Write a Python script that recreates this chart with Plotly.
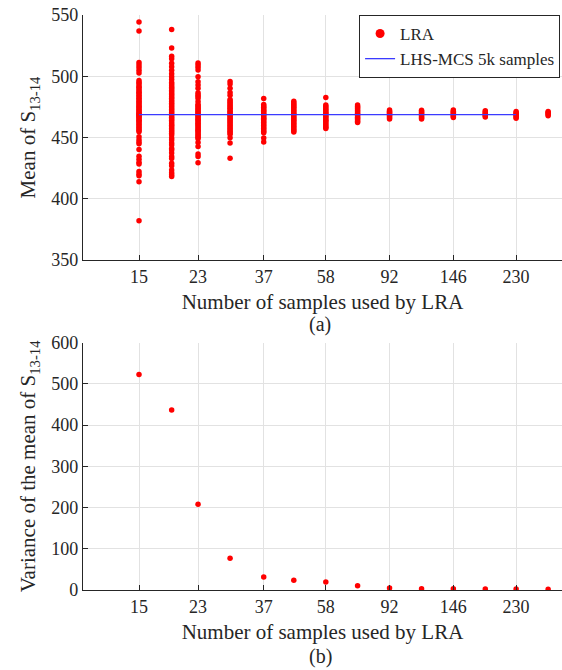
import plotly.graph_objects as go
from plotly.subplots import make_subplots

# Number of samples used by LRA (log-spaced design sizes)
sample_counts = [15, 19, 23, 29, 37, 46, 58, 73, 92, 116, 146, 184, 230, 290]
tick_counts = [15, 23, 37, 58, 92, 146, 230]

# Mean of S13-14 estimated by LRA in each repetition, per design size
mean_15 = [544.3, 537.0, 511.2, 509.2, 507.2, 504.8, 502.6,
           496.5, 495.0, 493.8, 492.1, 491.0, 489.6, 488.2, 487.0, 485.9, 484.5,
           483.3, 482.0, 480.8, 479.6, 478.4, 477.3, 476.0, 475.1, 474.0, 472.9,
           471.8, 470.9, 469.9, 469.0, 468.1, 467.2, 466.3, 465.2, 464.1, 463.0,
           461.9, 460.6, 459.4, 458.2, 457.0, 455.8, 454.6,
           450.7, 448.2, 446.4, 444.9, 440.2, 434.6, 432.3, 429.8, 428.4,
           422.2, 420.3, 418.8, 413.9, 382.1]
mean_19 = [538.2, 523.0, 516.3, 514.2, 510.6, 507.8, 505.0, 502.0, 499.6, 497.3,
           495.0, 493.6, 492.3, 490.9, 489.8, 488.4, 487.1, 485.8, 484.6, 483.2,
           482.0, 480.6, 479.3, 478.0, 476.8, 475.4, 474.1, 472.9, 471.6, 470.4,
           469.1, 467.9, 466.6, 465.3, 464.0, 462.7, 461.3, 460.1, 458.8, 457.4,
           456.1, 454.8, 453.4, 452.0,
           449.6, 447.9, 445.6, 443.8, 441.0, 439.7, 437.4, 434.4, 432.8,
           428.9, 427.0, 423.5, 421.2, 419.6, 418.2]
mean_23 = [510.9, 509.2, 507.3, 505.2, 499.6, 495.6, 492.9, 490.2, 486.6, 485.0,
           483.6, 482.0, 479.3,
           477.2, 476.0, 474.8, 473.7, 472.6, 471.5, 470.4, 469.3, 468.2, 467.1,
           466.0, 464.9, 463.8, 462.7, 461.6, 460.4, 459.3, 458.2, 457.0, 455.9,
           454.8, 453.6, 452.5, 451.3, 450.2, 449.0,
           446.0, 442.6, 436.6, 434.4, 429.4]
mean_29 = [495.8, 493.6, 490.2, 486.8, 484.5,
           481.0, 479.8, 478.6, 477.4, 476.2, 475.0, 473.9, 472.7, 471.5, 470.4,
           469.2, 468.0, 466.9, 465.7, 464.5, 463.4, 462.2, 461.0, 459.8, 458.6,
           457.4, 456.2, 455.0, 453.8, 452.6,
           449.8, 445.6, 433.0]
mean_37 = [481.8,
           477.0, 475.8, 474.6, 473.4, 472.3, 471.2, 470.1, 469.0, 467.9, 466.8,
           465.7, 464.6, 463.4, 462.2, 461.0, 459.8, 458.6, 457.4, 456.2, 455.0,
           453.8, 449.5, 446.4]
mean_46 = [479.5, 478.2, 477.0, 475.8, 474.6, 473.4, 472.2, 471.0, 469.8, 468.7,
           467.6, 466.4, 465.2, 464.0, 462.8, 461.6, 460.4, 459.2, 458.0, 456.8,
           455.6, 454.5]
mean_58 = [482.6,
           476.5, 475.3, 474.1, 472.9, 471.8, 470.7, 469.6, 468.5, 467.4, 466.3,
           465.2, 464.1, 463.0, 461.8, 460.6, 459.4, 458.3, 457.4]
mean_73 = [476.5, 475.4, 474.3, 473.2, 472.1, 471.0, 469.9, 468.8, 467.7, 466.6,
           465.5, 464.4, 463.3, 462.2]
mean_92 = [472.5, 471.5, 470.6, 469.7, 468.8, 467.9, 467.0, 466.0, 465.1]
mean_116 = [472.3, 471.3, 470.4, 469.5, 468.6, 467.7, 466.8, 465.9, 465.2]
mean_146 = [472.5, 471.5, 470.6, 469.7, 468.8, 467.9, 467.1, 466.3]
mean_184 = [471.8, 470.9, 470.0, 469.2, 468.4, 467.6, 466.8]
mean_230 = [471.2, 470.3, 469.4, 468.5, 467.6, 466.7, 465.8]
mean_290 = [471.3, 470.4, 469.5, 468.6, 467.7]

lra_means = [mean_15, mean_19, mean_23, mean_29, mean_37, mean_46, mean_58,
             mean_73, mean_92, mean_116, mean_146, mean_184, mean_230, mean_290]

# Reference mean from LHS-MCS with 5000 samples
mcs_mean = 468.6
mcs_range = [15, 230]

# Variance of the LRA mean estimates per design size
lra_variance = [523, 437, 208, 77, 31.5, 23.5, 19.4, 10.5, 4.9, 3.2, 3.0, 2.5, 2.4, 2.0]

FONT = "Liberation Serif"
AX = "#262626"
GRID = "#e2e2e2"
RED = "#ff0000"
BLUE = "#3b3bff"

scatter_x = []
scatter_y = []
for n, vals in zip(sample_counts, lra_means):
    scatter_x.extend([n] * len(vals))
    scatter_y.extend(vals)

fig = make_subplots(rows=2, cols=1, shared_xaxes=False)

fig.add_trace(go.Scatter(x=scatter_x, y=scatter_y, mode="markers",
                         marker=dict(color=RED, size=5.5, line=dict(width=0)),
                         showlegend=False), row=1, col=1)
fig.add_trace(go.Scatter(x=mcs_range, y=[mcs_mean, mcs_mean], mode="lines",
                         line=dict(color=BLUE, width=1.3),
                         showlegend=False), row=1, col=1)
# legend entries
fig.add_trace(go.Scatter(x=[None], y=[None], mode="markers", name="LRA",
                         marker=dict(color=RED, size=9)), row=1, col=1)
fig.add_trace(go.Scatter(x=[None], y=[None], mode="lines", name="LHS-MCS 5k samples",
                         line=dict(color=BLUE, width=1.3)), row=1, col=1)

fig.add_trace(go.Scatter(x=sample_counts, y=lra_variance, mode="markers",
                         marker=dict(color=RED, size=5.5, line=dict(width=0)),
                         showlegend=False), row=2, col=1)

xaxis_common = dict(
    type="log", range=[1.0, 2.506],
    tickvals=tick_counts, ticktext=[str(v) for v in tick_counts],
    showline=True, linecolor=AX, linewidth=1.2, mirror=False,
    ticks="inside", ticklen=5, tickcolor=AX,
    showgrid=True, gridcolor=GRID, gridwidth=1, zeroline=False,
    tickfont=dict(family=FONT, size=18, color=AX),
    title=dict(text="Number of samples used by LRA",
               font=dict(family=FONT, size=21, color=AX), standoff=8),
)
yaxis_common = dict(
    showline=True, linecolor=AX, linewidth=1.2, mirror=False,
    ticks="inside", ticklen=5, tickcolor=AX,
    showgrid=True, gridcolor=GRID, gridwidth=1, zeroline=False,
    tickfont=dict(family=FONT, size=18, color=AX),
)

fig.update_xaxes(**xaxis_common, domain=[0, 1])
fig.update_yaxes(**yaxis_common)
fig.update_yaxes(row=1, col=1, range=[350, 550], dtick=50, domain=[0.5739, 1.0],
                 title=dict(text="Mean of S<sub>13-14</sub>",
                            font=dict(family=FONT, size=21, color=AX), standoff=9))
fig.update_yaxes(row=2, col=1, range=[0, 600], dtick=100, domain=[0.0, 0.4301],
                 title=dict(text="Variance of the mean of S<sub>13-14</sub>",
                            font=dict(family=FONT, size=21, color=AX), standoff=9))

fig.add_annotation(text="(a)", x=0.495, y=0.4609, xref="paper", yref="paper",
                   showarrow=False, xanchor="center", yanchor="middle",
                   font=dict(family=FONT, size=20, color=AX))
fig.add_annotation(text="(b)", x=0.495, y=-0.1165, xref="paper", yref="paper",
                   showarrow=False, xanchor="center", yanchor="middle",
                   font=dict(family=FONT, size=20, color=AX))

fig.update_layout(
    width=562, height=670,
    margin=dict(l=83, r=0, t=15, b=80),
    paper_bgcolor="white", plot_bgcolor="white",
    font=dict(family=FONT, color=AX),
    legend=dict(x=0.996, y=1.0, xanchor="right", yanchor="top",
                bgcolor="white", bordercolor=AX, borderwidth=1,
                font=dict(family=FONT, size=17, color=AX),
                tracegroupgap=0, itemwidth=30),
)

fig.write_html("out.html")
